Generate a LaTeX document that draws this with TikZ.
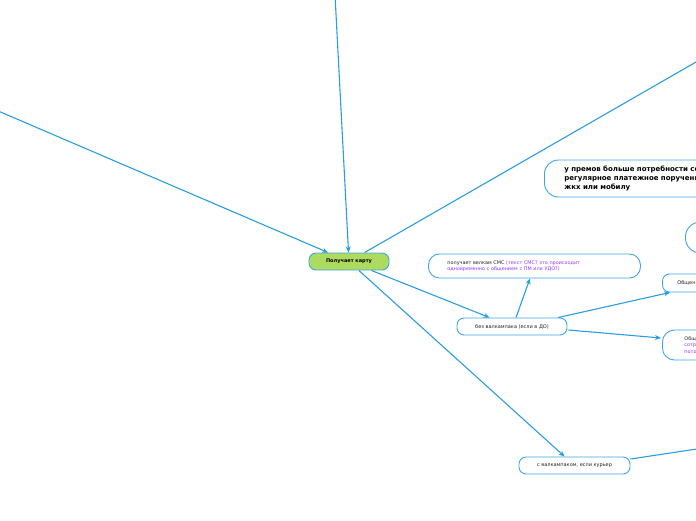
\documentclass[tikz,border=0pt]{standalone}
\usepackage{fontspec}
\setmainfont{DejaVu Sans}
\usetikzlibrary{arrows.meta,calc}
\definecolor{lineblue}{HTML}{2A9DE0}
\definecolor{boxblue}{HTML}{3DA6E6}
\definecolor{leaf}{HTML}{ACDB5F}
\definecolor{purp}{HTML}{9933FF}
\definecolor{ink}{HTML}{222222}
\tikzset{
  conn/.style={draw=lineblue, line width=1.1pt},
  arr/.style={conn, -{Stealth[length=6pt,width=5pt]}},
  topic/.style={draw=boxblue, line width=0.9pt, fill=white, rounded corners=7pt,
    font=\fontsize{5}{6}\selectfont, text=ink, inner sep=0pt, minimum height=17pt},
  bigtopic/.style={topic, rounded corners=14pt, font=\fontsize{7}{9}\selectfont\bfseries,
    text=black, align=left, anchor=west},
}
\begin{document}
\begin{tikzpicture}[x=1pt,y=-1pt]
\useasboundingbox (0,0) rectangle (696,520);
\clip (0,0) rectangle (696,520);
% nodes
\node[topic, fill=leaf, minimum width=80pt, font=\fontsize{5}{6}\selectfont\bfseries, text=black] (c) at (349,261.5) {Получает карту};
\node[topic, minimum width=110pt] (bez) at (512,326.5) {без валкампака (если в ДО)};
\node[topic, minimum width=111pt] (cval) at (574.5,465.5) {с валкампаком, если курьер};
\node[topic, rounded corners=11pt, anchor=west, minimum height=24pt, minimum width=212pt,
  align=left, text width=174pt, inner xsep=19pt, font=\fontsize{4.9}{6.2}\selectfont] (sms) at (428,266)
  {получает велкам СМС \textcolor{purp}{(текст СМС? это происходит}\\\textcolor{purp}{одновременно с общением с ПМ или УДО?)}};
\node[bigtopic, minimum height=37pt, text width=220pt, inner xsep=20pt] (prem) at (544,178.5)
  {у премов больше потребности со\\регулярное платежное поручени\\жкх или мобилу};
\node[topic, anchor=west, rounded corners=15pt, minimum height=31pt, minimum width=60pt] (circ) at (685,237.5) {};
\node[topic, anchor=west, minimum height=18pt, minimum width=80pt, align=left, text width=60pt, inner xsep=15pt] (obsh1) at (662,283) {Общен};
\node[topic, anchor=west, rounded corners=12pt, minimum height=30pt, minimum width=80pt, align=left, text width=60pt, inner xsep=22pt, font=\fontsize{4.9}{6.8}\selectfont] (obsh2) at (662,345)
  {Общ\\\textcolor{purp}{сотр}\\\textcolor{purp}{пото}};
% free ends
\coordinate (top) at (335,-5);
\coordinate (left) at (-10,107.5);
\coordinate (tr) at (710,54);
\coordinate (br) at (730,444);
% connectors
\draw[arr] (top) -- (c);
\draw[arr] (left) -- (c);
\draw[arr] (c) -- (tr);
\draw[arr] (c) -- (bez);
\draw[arr] (c) -- (cval);
\draw[arr] (bez.north -| 516,0) -- (sms.south -| 530,0);
\draw[arr] (bez.11) -- (obsh1.south west -| 670,0);
\draw[arr] ($(bez.east)+(1,3.5)$) -- ($(obsh2.west)+(-1,-7)$);
\draw[conn] ($(cval.east)+(0,-6.5)$) -- (br);
\end{tikzpicture}
\end{document}
